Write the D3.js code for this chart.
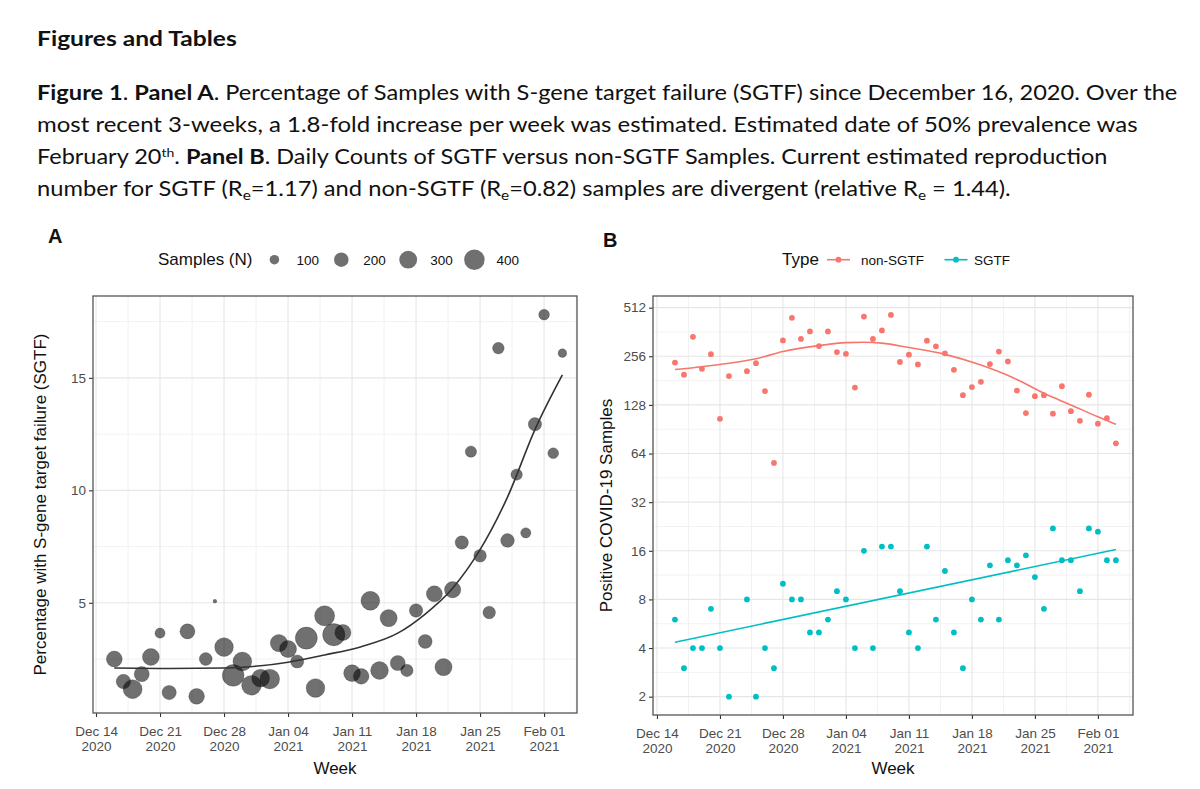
<!DOCTYPE html>
<html><head><meta charset="utf-8">
<script src="https://cdn.jsdelivr.net/npm/d3@7"></script>
<style>body{margin:0;background:#fff}svg{display:block}</style>
</head><body>
<svg id="c" width="1200" height="789"></svg>
<script>
// ---------------- DATA ----------------
const days = ["2020-12-16","2020-12-17","2020-12-18","2020-12-19","2020-12-20","2020-12-21","2020-12-22",
  "2020-12-24","2020-12-25","2020-12-26","2020-12-27","2020-12-28","2020-12-29","2020-12-30","2020-12-31",
  "2021-01-01","2021-01-02","2021-01-03","2021-01-04","2021-01-05","2021-01-06","2021-01-07","2021-01-08",
  "2021-01-09","2021-01-10","2021-01-11","2021-01-12","2021-01-13","2021-01-14","2021-01-15","2021-01-16",
  "2021-01-17","2021-01-18","2021-01-19","2021-01-20","2021-01-21","2021-01-22","2021-01-23","2021-01-24",
  "2021-01-25","2021-01-26","2021-01-27","2021-01-28","2021-01-29","2021-01-30","2021-01-31","2021-02-01",
  "2021-02-02","2021-02-03"];
const sgtfCounts = [6,3,4,4,7,4,2, 8,2,4,3,10,8,8,5, 5,6,9,8,4,16,4,17, 17,9,5,4,17,6,12,5,
  3,8,6,13,6,14,13,15, 11,7,22,14,14,9,22,21, 14,14];
const nonSgtfCounts = [234,197,338,214,264,105,193, 207,232,156,56,321,443,328,365, 296,365,272,265,164,451,328,370,
  462,236,262,228,320,295,267,211, 147,165,178,229,274,238,157,114, 145,147,113,167,117,102,148,98, 106,74];
const pctSgtf = [2.50,1.50,1.16,1.83,2.59,3.65,1.01, 3.73,0.84,2.50,5.07,3.03,1.77,2.39,1.33,
  1.65,1.61,3.21,2.94,2.39,3.43,1.21,4.42, 3.58,3.68,1.87,1.73,5.09,1.99,4.32,2.32,
  1.99,4.66,3.28,5.40,2.14,5.58,7.68,11.72, 7.09,4.57,16.32,7.77,10.70,8.11,12.94,17.81, 11.65,16.10];
// fitted curve, panel A
const trendADates = ["2020-12-16","2020-12-22","2020-12-28","2021-01-01","2021-01-04","2021-01-08","2021-01-12",
  "2021-01-16","2021-01-19","2021-01-22","2021-01-25","2021-01-28","2021-01-31","2021-02-03"];
const trendAValues = [2.10,2.08,2.10,2.20,2.36,2.68,3.05,3.65,4.50,5.65,7.36,9.70,12.70,15.13];
// smooth lines, panel B
const trendNonDates = ["2020-12-16","2020-12-21","2020-12-25","2020-12-28","2021-01-01","2021-01-04","2021-01-06",
  "2021-01-08","2021-01-11","2021-01-15","2021-01-19","2021-01-23","2021-01-26","2021-01-29","2021-02-01","2021-02-03"];
const trendNonValues = [212,228,247,274,298,311,313,309,290,263,226,184,151,128,108,97];
const trendSgtfDates = ["2020-12-16","2021-02-03"];
const trendSgtfValues = [4.35,16.3];
// ticks / legends
const weekTicks = ["2020-12-14","2020-12-21","2020-12-28","2021-01-04","2021-01-11","2021-01-18","2021-01-25","2021-02-01"];
const pctTicks = [5,10,15];
const countTicks = [2,4,8,16,32,64,128,256,512];
const sizeBreaks = [100,200,300,400];
const typeNames = ["non-SGTF","SGTF"];
const typeColors = ["#F8766D","#00BFC4"];

// ---------------- SETUP ----------------
const svg = d3.select("#c");
const P = d3.utcParse("%Y-%m-%d");
const DAY = 864e5;
const axisFont = "'Liberation Sans', Arial, Helvetica, sans-serif";
const textGrey = "#4d4d4d";
const fmtTick = d3.utcFormat("%b %d");
const fmtYear = d3.utcFormat("%Y");
const weeks = weekTicks.map(P);
const minorWeeks = [];
for (let i = 0; i < weeks.length; i++) minorWeeks.push(new Date(+weeks[i] + 3.5*DAY));

// ---------------- CAPTION ----------------
function richLine(y, right, parts, size) {
  const t = svg.append("text").attr("x",0).attr("y",0)
    .style("font-family","Lato, 'Open Sans', sans-serif").style("font-size", size + "px").attr("fill","#111");
  parts.forEach(p => {
    const ts = t.append("tspan").text(p.t);
    if (p.b) ts.style("font-weight","bold");
    if (p.sub) ts.style("font-size","65%").attr("baseline-shift","-25%");
    if (p.sup) ts.style("font-size","60%").attr("baseline-shift","55%");
  });
  const w = t.node().getBBox().width;
  t.attr("transform", `translate(37,${y}) scale(${(right-37)/w},1)`);
}
richLine(46, 237, [{t:"Figures and Tables", b:true}], 20);
richLine(100, 1178, [{t:"Figure 1",b:true},{t:". "},{t:"Panel A",b:true},{t:". Percentage of Samples with S-gene target failure (SGTF) since December 16, 2020. Over the"}], 20.5);
richLine(132, 1138, [{t:"most recent 3-weeks, a 1.8-fold increase per week was estimated. Estimated date of 50% prevalence was"}], 20.5);
richLine(164, 1108, [{t:"February 20"},{t:"th",sup:true},{t:". "},{t:"Panel B",b:true},{t:". Daily Counts of SGTF versus non-SGTF Samples. Current estimated reproduction"}], 20.5);
richLine(196, 1011, [{t:"number for SGTF (R"},{t:"e",sub:true},{t:"=1.17) and non-SGTF (R"},{t:"e",sub:true},{t:"=0.82) samples are divergent (relative R"},{t:"e",sub:true},{t:" = 1.44)."}], 20.5);

// ---------------- PANEL HELPERS ----------------
function panelFrame(g, x, y, yMajor, yMinor, left, right, top, bottom) {
  const grid = g.append("g");
  yMinor.forEach(v => grid.append("line").attr("x1",left).attr("x2",right).attr("y1",y(v)).attr("y2",y(v))
    .attr("stroke","#f2f2f2").attr("stroke-width",1));
  minorWeeks.filter(d => x(d) > left && x(d) < right).forEach(d => grid.append("line")
    .attr("x1",x(d)).attr("x2",x(d)).attr("y1",top).attr("y2",bottom).attr("stroke","#f2f2f2").attr("stroke-width",1));
  yMajor.forEach(v => grid.append("line").attr("x1",left).attr("x2",right).attr("y1",y(v)).attr("y2",y(v))
    .attr("stroke","#e6e6e6").attr("stroke-width",1.1));
  weeks.forEach(d => grid.append("line").attr("x1",x(d)).attr("x2",x(d)).attr("y1",top).attr("y2",bottom)
    .attr("stroke","#e6e6e6").attr("stroke-width",1.1));
}
function panelAxes(g, x, y, yTicks, left, right, top, bottom, yTitle, yTitleX) {
  const xa = g.append("g").attr("transform",`translate(0,${bottom})`)
    .call(d3.axisBottom(x).tickValues(weeks).tickSize(4).tickFormat(""));
  xa.select(".domain").remove();
  xa.selectAll(".tick line").attr("stroke","#333").attr("stroke-width",1.1);
  xa.selectAll(".tick").append("text").attr("fill",textGrey).attr("text-anchor","middle")
    .style("font-family",axisFont).style("font-size","13.5px")
    .each(function(d){
      const t = d3.select(this);
      t.append("tspan").attr("x",0).attr("y",23).text(fmtTick(d));
      t.append("tspan").attr("x",0).attr("y",38).text(fmtYear(d));
    });
  const ya = g.append("g").attr("transform",`translate(${left},0)`)
    .call(d3.axisLeft(y).tickValues(yTicks).tickSize(4).tickPadding(3).tickFormat(d3.format("d")));
  ya.select(".domain").remove();
  ya.selectAll(".tick line").attr("stroke","#333").attr("stroke-width",1.1);
  ya.selectAll(".tick text").attr("fill",textGrey).style("font-family",axisFont).style("font-size","13.5px");
  g.append("rect").attr("x",left).attr("y",top).attr("width",right-left).attr("height",bottom-top)
    .attr("fill","none").attr("stroke","#555").attr("stroke-width",1.3);
  g.append("text").attr("x",(left+right)/2).attr("y",774).attr("text-anchor","middle")
    .style("font-family",axisFont).style("font-size","17px").attr("fill","#111").text("Week");
  g.append("text").attr("transform",`translate(${yTitleX},${(top+bottom)/2}) rotate(-90)`).attr("text-anchor","middle")
    .style("font-family",axisFont).style("font-size","17px").attr("fill","#111").text(yTitle);
}

// ---------------- PANEL A ----------------
{
  const left = 93, right = 577, top = 296, bottom = 713;
  const g = svg.append("g");
  const d0 = P("2020-12-14");
  const x = d3.scaleUtc().domain([new Date(+d0 - 0.33*DAY), new Date(+d0 + 52.6*DAY)]).range([left, right]);
  const y = d3.scaleLinear().domain([0.1, 18.64]).range([bottom, top]);
  panelFrame(g, x, y, pctTicks, [2.5,7.5,12.5,17.5], left, right, top, bottom);

  const samples = sgtfCounts.map((s,i) => s + nonSgtfCounts[i]);
  const nMin = d3.min(samples), nMax = d3.max(samples);
  const sz = d3.scaleSqrt().domain([0, nMax - nMin]).range([0, 9.3]);
  const rad = n => 1.86 + sz(Math.max(0, n - nMin));

  const pts = days.map((d,i) => ({date:P(d), v:pctSgtf[i], n:samples[i]}));
  g.append("g").selectAll("circle").data(pts).join("circle")
    .attr("cx",d => x(d.date)).attr("cy",d => y(d.v)).attr("r",d => rad(d.n))
    .attr("fill","#000").attr("fill-opacity",0.56)
    .attr("stroke","#000").attr("stroke-opacity",0.25).attr("stroke-width",0.8);

  const tr = trendADates.map((d,i) => ({date:P(d), v:trendAValues[i]}));
  g.append("path").datum(tr).attr("fill","none").attr("stroke","#333").attr("stroke-width",1.6)
    .attr("d", d3.line().x(d => x(d.date)).y(d => y(d.v)).curve(d3.curveMonotoneX));

  panelAxes(g, x, y, pctTicks, left, right, top, bottom, "Percentage with S-gene target failure (SGTF)", 46);

  g.append("text").attr("x",48).attr("y",243).style("font-family",axisFont).style("font-size","20px")
    .style("font-weight","bold").attr("fill","#111").text("A");
  // size legend
  const lg = g.append("g");
  lg.append("text").attr("x",158).attr("y",265).style("font-family",axisFont).style("font-size","17px")
    .attr("fill","#111").text("Samples (N)");
  const lx = [274.4, 341.3, 408.2, 474.4];
  sizeBreaks.forEach((b,i) => {
    lg.append("circle").attr("cx",lx[i]).attr("cy",259.7).attr("r",rad(b))
      .attr("fill","#000").attr("fill-opacity",0.56);
    lg.append("text").attr("x",lx[i] + 22).attr("y",264.5).style("font-family",axisFont).style("font-size","13.5px")
      .attr("fill","#111").text(b);
  });
}

// ---------------- PANEL B ----------------
{
  const left = 653, right = 1133, top = 296, bottom = 715;
  const g = svg.append("g");
  const d0 = P("2020-12-14");
  const x = d3.scaleUtc().domain([new Date(+d0 - 0.44*DAY), new Date(+d0 + 52.9*DAY)]).range([left, right]);
  const y = d3.scaleLog().base(2).domain([Math.pow(2,0.623), Math.pow(2,9.24)]).range([bottom, top]);
  const minorY = countTicks.map(v => v*Math.SQRT2).filter(v => y(v) > top);
  panelFrame(g, x, y, countTicks, minorY, left, right, top, bottom);

  const series = [nonSgtfCounts, sgtfCounts];
  series.forEach((arr, k) => {
    g.append("g").selectAll("circle").data(days.map((d,i) => ({date:P(d), v:arr[i]}))).join("circle")
      .attr("cx",d => x(d.date)).attr("cy",d => y(d.v)).attr("r",2.9).attr("fill",typeColors[k]);
  });
  const line = d3.line().x(d => x(d.date)).y(d => y(d.v)).curve(d3.curveMonotoneX);
  g.append("path").datum(trendNonDates.map((d,i) => ({date:P(d), v:trendNonValues[i]})))
    .attr("fill","none").attr("stroke",typeColors[0]).attr("stroke-width",1.6).attr("d",line);
  g.append("path").datum(trendSgtfDates.map((d,i) => ({date:P(d), v:trendSgtfValues[i]})))
    .attr("fill","none").attr("stroke",typeColors[1]).attr("stroke-width",1.6).attr("d",line);

  panelAxes(g, x, y, countTicks, left, right, top, bottom, "Positive COVID-19 Samples", 612);

  g.append("text").attr("x",603).attr("y",247).style("font-family",axisFont).style("font-size","20px")
    .style("font-weight","bold").attr("fill","#111").text("B");
  const lg = g.append("g");
  lg.append("text").attr("x",782).attr("y",265).style("font-family",axisFont).style("font-size","17px")
    .attr("fill","#111").text("Type");
  const kx = [827, 944.5], tx = [861, 974];
  typeNames.forEach((n,k) => {
    lg.append("line").attr("x1",kx[k]).attr("x2",kx[k]+23).attr("y1",259.7).attr("y2",259.7)
      .attr("stroke",typeColors[k]).attr("stroke-width",1.6);
    lg.append("circle").attr("cx",kx[k]+11.5).attr("cy",259.7).attr("r",2.9).attr("fill",typeColors[k]);
    lg.append("text").attr("x",tx[k]).attr("y",264.5).style("font-family",axisFont).style("font-size","13.5px")
      .attr("fill","#111").text(n);
  });
}
</script>
</body></html>
